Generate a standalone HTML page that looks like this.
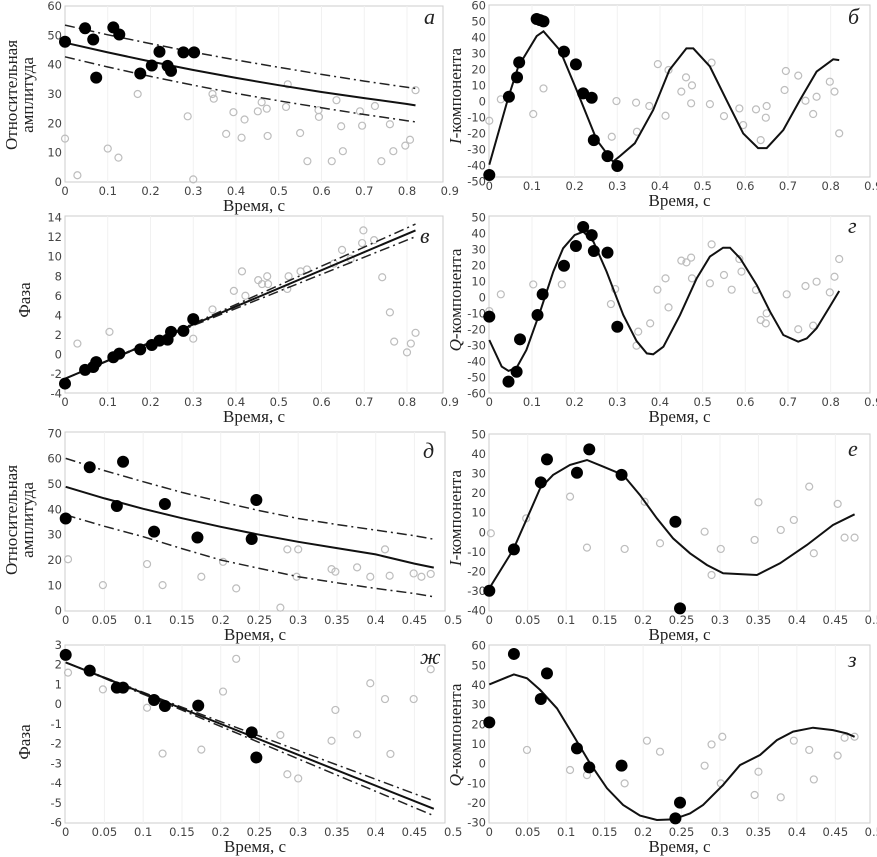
<!DOCTYPE html>
<html><head><meta charset="utf-8">
<style>
html,body{margin:0;padding:0;background:#fff;}
svg{display:block;}
.tk{font-family:"DejaVu Sans","Liberation Sans",sans-serif;font-size:11.5px;fill:#444;}
.ttl{font-family:"Liberation Serif","DejaVu Serif",serif;font-size:17px;fill:#222;}
.let{font-family:"Liberation Serif",serif;font-style:italic;font-size:22px;fill:#222;}
</style></head>
<body>
<svg id="chart" width="877" height="857" viewBox="0 0 877 857" xmlns="http://www.w3.org/2000/svg"></svg>
<script>
// ---- Panel а (amplitude) ----
const aFilledT=[0,0.047,0.066,0.073,0.113,0.127,0.176,0.203,0.221,0.24,0.248,0.277,0.302];
const aFilledV=[47.8,52.4,48.6,35.6,52.7,50.3,37,39.7,44.4,39.6,37.9,44.2,44.2];
const aHollowT=[0,0.029,0.1,0.125,0.17,0.287,0.3,0.345,0.348,0.377,0.394,0.413,0.42,0.451,0.46,0.472,0.474,0.517,0.521,0.55,0.567,0.593,0.594,0.624,0.635,0.646,0.65,0.69,0.695,0.725,0.74,0.76,0.768,0.796,0.807,0.82];
const aHollowV=[14.8,2.3,11.4,8.3,30,22.4,0.9,30,28.4,16.4,23.8,15.1,21.3,24.1,27.2,25,15.7,25.6,33.3,16.7,7.1,24.5,22.2,7.1,27.9,19,10.5,24.1,19.2,25.9,7.1,19.7,10.5,12.4,14.4,31.3];
const aFitT=[0,0.1,0.2,0.3,0.4,0.5,0.6,0.7,0.8,0.82];
const aFitV=[47.5,44.2,41.1,38.2,35.5,33.0,30.7,28.6,26.6,26.1];
const aUpV=[53.5,50.2,47.2,44.3,41.6,39.1,36.7,34.4,32.3,31.9];
const aLoV=[42.7,39.2,36.0,33.0,30.2,27.7,25.3,23.0,20.9,20.5];
// ---- Panel б (I-component) ----
const bFilledT=[0,0.046,0.065,0.07,0.111,0.119,0.127,0.175,0.203,0.22,0.24,0.245,0.277,0.3];
const bFilledV=[-45.8,3.1,15.2,24.6,51.7,51,50.2,31.3,23.3,5.2,2.5,-24,-34,-40.2];
const bHollowT=[0,0.027,0.103,0.127,0.287,0.298,0.344,0.346,0.375,0.395,0.413,0.42,0.45,0.461,0.473,0.475,0.517,0.521,0.55,0.586,0.595,0.625,0.636,0.648,0.65,0.692,0.695,0.724,0.741,0.759,0.767,0.798,0.809,0.82];
const bHollowV=[-11.9,1.5,-7.7,8.3,-21.9,0.4,-0.6,-18.8,-2.7,23.5,-8.8,19.8,6.3,15.2,-1,10.2,-1.5,24.4,-9,-4.2,-14.6,-4.8,-24,-10,-2.7,7.3,19.2,16.3,0.6,-7.7,3.1,12.5,6.3,-19.8];
const bFitT=[0,0.045,0.068,0.111,0.127,0.166,0.205,0.252,0.29,0.306,0.341,0.384,0.422,0.462,0.478,0.517,0.556,0.595,0.63,0.65,0.689,0.728,0.767,0.806,0.82];
const bFitV=[-39.4,3,22,41,44,32,7,-24,-37.5,-34,-26,-5.2,19.8,33.3,33.3,22,1,-19.8,-29,-29,-17.7,1,18.8,26.5,26];
// ---- Panel в (phase) ----
const cFilledT=[0,0.047,0.066,0.073,0.113,0.127,0.176,0.203,0.221,0.24,0.248,0.277,0.3];
const cFilledV=[-3,-1.6,-1.3,-0.8,-0.3,0.07,0.5,0.95,1.4,1.5,2.3,2.4,3.6];
const cHollowT=[0.029,0.104,0.3,0.345,0.395,0.414,0.422,0.452,0.461,0.473,0.475,0.523,0.52,0.551,0.566,0.629,0.648,0.668,0.695,0.698,0.723,0.742,0.76,0.77,0.8,0.809,0.82];
const cHollowV=[1.1,2.3,1.6,4.6,6.5,8.5,6,7.6,7.2,8,7.2,8,6.7,8.5,8.7,9.3,10.7,9.8,11.4,12.7,11.7,7.9,4.3,1.3,0.2,1.1,2.2];
const cFitT=[0,0.3,0.82];
const cFitV=[-2.5,3.05,12.7];
const cUpV=[-2.5,3.15,13.35];
const cLoV=[-2.5,2.95,12.05];
// ---- Panel г (Q-component) ----
const dFilledT=[0,0.045,0.064,0.072,0.113,0.125,0.175,0.203,0.22,0.24,0.245,0.277,0.3];
const dFilledV=[-12,-52.7,-46.5,-26.2,-11,2,19.9,32.3,44.2,39.1,29.1,28.1,-18.3];
const dHollowT=[0,0.027,0.103,0.17,0.285,0.295,0.345,0.349,0.377,0.394,0.413,0.42,0.45,0.462,0.473,0.475,0.517,0.521,0.55,0.568,0.586,0.591,0.625,0.636,0.648,0.65,0.697,0.724,0.741,0.759,0.767,0.798,0.809,0.82];
const dHollowV=[-8.5,2,8.2,8.2,-4.1,5.3,-30.2,-21.4,-16.2,4.9,12,-6.2,23.1,22,25,12,8.9,33.3,14.1,4.9,24.1,16.2,4.7,-14.1,-16.2,-9.9,2,-19.9,7.2,-17.6,9.9,3.2,13,24.1];
const dFitT=[0,0.029,0.045,0.064,0.087,0.119,0.15,0.173,0.2,0.22,0.244,0.275,0.314,0.345,0.369,0.384,0.408,0.447,0.486,0.517,0.548,0.564,0.588,0.627,0.658,0.689,0.724,0.744,0.767,0.798,0.82];
const dFitV=[-26.6,-43.3,-46,-44,-32.9,-8.9,16.2,30.8,39.1,41.2,35,16.2,-11,-27.2,-35,-35.6,-30.8,-11,12,25.6,31.2,31.2,24.5,7.8,-8.9,-23.5,-27.7,-25.6,-19.3,-5.7,4.1];
// ---- Panel д (amplitude) ----
const eFilledT=[0,0.031,0.074,0.066,0.114,0.128,0.17,0.24,0.246];
const eFilledV=[36.4,56.6,58.8,41.3,31.2,42.1,28.9,28.3,43.7];
const eHollowT=[0.003,0.048,0.105,0.125,0.175,0.203,0.22,0.277,0.286,0.3,0.298,0.343,0.348,0.376,0.393,0.412,0.418,0.449,0.459,0.471];
const eHollowV=[20.3,10.1,18.4,10.1,13.4,19.3,8.8,1.2,24.2,24.2,13.4,16.4,15.4,17.1,13.4,24.2,13.8,14.7,13.4,14.5];
const eFitT=[0,0.05,0.1,0.15,0.2,0.25,0.3,0.35,0.4,0.45,0.475];
const eFitV=[48.9,44.3,40.2,36.5,33.1,30.0,27.2,24.7,22.2,18.6,17.0];
const eUpV=[60.1,55.3,50.9,46.7,43,39.5,36.4,34,31.8,29.6,28.2];
const eLoV=[37.8,33.3,29.2,24.5,20,16.7,13.4,11,8.8,6.8,5.5];
// ---- Panel е (I-component) ----
const fFilledT=[0,0.032,0.067,0.075,0.114,0.13,0.172,0.242,0.248];
const fFilledV=[-29.8,-8.7,25.5,37.2,30.4,42.3,29.3,5.4,-38.8];
const fHollowT=[0.002,0.048,0.105,0.127,0.176,0.202,0.222,0.28,0.289,0.301,0.345,0.35,0.379,0.396,0.416,0.422,0.453,0.462,0.475];
const fHollowV=[-0.5,7.1,18.2,-7.8,-8.5,15.6,-5.6,0.3,-21.8,-8.5,-3.9,15.3,1.2,6.3,23.3,-10.7,14.5,-2.7,-2.7];
const fFitT=[0,0.031,0.049,0.066,0.083,0.105,0.127,0.148,0.174,0.196,0.218,0.239,0.261,0.283,0.304,0.348,0.378,0.413,0.447,0.475];
const fFitV=[-28.6,-9,7.1,22.4,29.3,34.4,36.9,33.5,29.3,19,7.1,-3.1,-10.7,-16.7,-20.9,-21.8,-15.8,-6.5,3.7,9.2];
// ---- Panel ж (phase) ----
const gFilledT=[0,0.031,0.066,0.074,0.114,0.128,0.171,0.24,0.246];
const gFilledV=[2.5,1.7,0.84,0.84,0.21,-0.09,-0.07,-1.43,-2.7];
const gHollowT=[0.003,0.048,0.105,0.125,0.175,0.203,0.22,0.277,0.286,0.3,0.343,0.348,0.376,0.393,0.412,0.419,0.449,0.471];
const gHollowV=[1.6,0.75,-0.18,-2.5,-2.3,0.64,2.3,-1.56,-3.55,-3.76,-1.85,-0.29,-1.53,1.06,0.26,-2.52,0.26,1.77];
const gFitT=[0,0.15,0.475];
const gFitV=[2.12,-0.22,-5.3];
const gUpV=[2.12,-0.15,-4.9];
const gLoV=[2.12,-0.3,-5.65];
// ---- Panel з (Q-component) ----
const hFilledT=[0,0.032,0.067,0.075,0.114,0.13,0.172,0.242,0.248];
const hFilledV=[21,55.8,32.9,45.9,7.8,-1.9,-1,-27.8,-19.8];
const hHollowT=[0.049,0.105,0.127,0.176,0.205,0.222,0.28,0.289,0.301,0.303,0.345,0.35,0.379,0.396,0.416,0.422,0.453,0.462,0.475];
const hHollowV=[7,-3.2,-5.8,-10,11.7,6.1,-1,9.8,-10,13.7,-15.9,-4.1,-17.1,11.7,7,-8,4.1,13.2,13.7];
const hFitT=[0,0.032,0.049,0.066,0.088,0.109,0.131,0.153,0.174,0.196,0.218,0.239,0.261,0.278,0.304,0.326,0.352,0.374,0.395,0.421,0.447,0.465,0.475];
const hFitV=[40.3,45.4,43.4,37.5,28.1,14.6,0.2,-12.5,-21,-26.4,-28.6,-28.3,-25.3,-21,-10.8,-0.7,4.4,12,16.3,18.3,17.1,15.4,13.7];

// tick labels
const xTicksLong=["0","0.1","0.2","0.3","0.4","0.5","0.6","0.7","0.8","0.9"];
const xTicksShort=["0","0.05","0.1","0.15","0.2","0.25","0.3","0.35","0.4","0.45","0.5"];
const yTicksA=["0","10","20","30","40","50","60"];
const yTicksB=["-50","-40","-30","-20","-10","0","10","20","30","40","50","60"];
const yTicksC=["-4","-2","0","2","4","6","8","10","12","14"];
const yTicksD=["-60","-50","-40","-30","-20","-10","0","10","20","30","40","50"];
const yTicksE=["0","10","20","30","40","50","60","70"];
const yTicksF=["-40","-30","-20","-10","0","10","20","30","40","50"];
const yTicksG=["-6","-5","-4","-3","-2","-1","0","1","2","3"];
const yTicksH=["-30","-20","-10","0","10","20","30","40","50","60"];

const NS="http://www.w3.org/2000/svg";
const svg=document.getElementById('chart');
function mk(tag,attrs,parent,txt){const e=document.createElementNS(NS,tag);for(const k in attrs)e.setAttribute(k,attrs[k]);if(txt!==undefined)e.textContent=txt;(parent||svg).appendChild(e);return e;}

function panel(c){
  const g=mk('g',{});
  
  
  const sx=t=>c.ox+t*c.kx, sy=v=>c.oy-v*c.ky;
  const fr=mk('rect',{x:c.x0,y:c.y0,width:c.x1-c.x0,height:c.y1-c.y0,fill:'none',stroke:'#ccc','stroke-width':1},g);
  
  
  c.xt.forEach(s=>{const v=parseFloat(s),x=sx(v);
    if(x>c.x0+1&&x<c.x1-1){mk('line',{x1:x,x2:x,y1:c.y0,y2:c.y1,stroke:'#f1f1f1','stroke-width':1},g);}
    const t=mk('text',{x:x,y:c.y1+13,'text-anchor':'middle',class:'tk'},g,s);
    
    });
  c.yt.forEach(s=>{const v=parseFloat(s),y=sy(v);
    const t=mk('text',{x:c.x0-3,y:y+4,'text-anchor':'end',class:'tk'},g,s);
    
    });
  const xl=mk('text',{x:(c.x0+c.x1)/2,y:c.y1+29,'text-anchor':'middle',class:'ttl'},g,'Время, с');
  
  
  const yl=mk('text',{transform:`translate(${c.ytx},${c.yty}) rotate(-90)`,'text-anchor':'middle',class:'ttl'},g);
  
  
  c.ytitle.forEach((ln,i)=>{
    const ts=mk('tspan',{x:0,dy:i===0?(c.ytitle.length>1?-3:0):16},yl);
    if(ln.indexOf('-')===1){mk('tspan',{'font-style':'italic'},ts,ln.charAt(0));mk('tspan',{},ts,ln.slice(1));}
    else ts.textContent=ln;
  });
  const lt=mk('text',{x:c.lx,y:c.ly,class:'let'},g,c.letter);
  
  
  c.hT.forEach((t,i)=>{const p=mk('circle',{cx:sx(t),cy:sy(c.hV[i]),r:3.5,fill:'none',stroke:'#bdbdbd','stroke-width':1.2},g);
    
    });
  const path=(T,V)=>T.map((t,i)=>(i?'L':'M')+sx(t).toFixed(1)+','+sy(V[i]).toFixed(1)).join('');
  if(c.uV){const u=mk('path',{d:path(c.fT,c.uV),fill:'none',stroke:'#222','stroke-width':1.5,'stroke-dasharray':'10,4,2,4'},g);
    
    
    const l=mk('path',{d:path(c.fT,c.lV),fill:'none',stroke:'#222','stroke-width':1.5,'stroke-dasharray':'10,4,2,4'},g);
    
    }
  const f=mk('path',{d:path(c.fT,c.fV),fill:'none',stroke:'#111','stroke-width':2},g);
  
  
  c.pT.forEach((t,i)=>{const p=mk('circle',{cx:sx(t),cy:sy(c.pV[i]),r:6,fill:'#000'},g);
    
    });
}
const AMP=['Относительная','амплитуда'];
panel({name:'panel-a-amplitude',x0:65,x1:443,y0:6,y1:182,ox:65,kx:427.5,oy:182,ky:2.933,xt:xTicksLong,yt:yTicksA,ytitle:AMP,ytx:20,yty:95,letter:'a',lx:424,ly:24,pT:aFilledT,pV:aFilledV,hT:aHollowT,hV:aHollowV,fT:aFitT,fV:aFitV,uV:aUpV,lV:aLoV});
panel({name:'panel-b-i-component',x0:489,x1:870,y0:5,y1:177,ox:489.3,kx:426.7,oy:101.7,ky:1.6,xt:xTicksLong,yt:yTicksB,ytitle:['I-компонента'],ytx:461,yty:96,letter:'б',lx:848,ly:24,pT:bFilledT,pV:bFilledV,hT:bHollowT,hV:bHollowV,fT:bFitT,fV:bFitV});
panel({name:'panel-v-phase',x0:65,x1:443,y0:216,y1:393,ox:65,kx:427.5,oy:354.3,ky:9.756,xt:xTicksLong,yt:yTicksC,ytitle:['Фаза'],ytx:30,yty:300,letter:'в',lx:420,ly:243,pT:cFilledT,pV:cFilledV,hT:cHollowT,hV:cHollowV,fT:cFitT,fV:cFitV,uV:cUpV,lV:cLoV});
panel({name:'panel-g-q-component',x0:489,x1:870,y0:216,y1:393,ox:489.3,kx:426.7,oy:297.5,ky:1.596,xt:xTicksLong,yt:yTicksD,ytitle:['Q-компонента'],ytx:461,yty:300,letter:'г',lx:848,ly:233,pT:dFilledT,pV:dFilledV,hT:dHollowT,hV:dHollowV,fT:dFitT,fV:dFitV});
panel({name:'panel-d-amplitude',x0:65,x1:445,y0:432,y1:611,ox:65.7,kx:775,oy:610.7,ky:2.534,xt:xTicksShort,yt:yTicksE,ytitle:AMP,ytx:20,yty:520,letter:'д',lx:423,ly:458,pT:eFilledT,pV:eFilledV,hT:eHollowT,hV:eHollowV,fT:eFitT,fV:eFitV,uV:eUpV,lV:eLoV});
panel({name:'panel-e-i-component',x0:489,x1:870,y0:434,y1:611,ox:489.3,kx:769,oy:532.3,ky:1.96,xt:xTicksShort,yt:yTicksF,ytitle:['I-компонента'],ytx:461,yty:518,letter:'е',lx:848,ly:456,pT:fFilledT,pV:fFilledV,hT:fHollowT,hV:fHollowV,fT:fFitT,fV:fFitV});
panel({name:'panel-zh-phase',x0:65,x1:445,y0:645,y1:823,ox:65.7,kx:775,oy:704.2,ky:19.74,xt:xTicksShort,yt:yTicksG,ytitle:['Фаза'],ytx:30,yty:742,letter:'ж',lx:420,ly:664,pT:gFilledT,pV:gFilledV,hT:gHollowT,hV:gHollowV,fT:gFitT,fV:gFitV,uV:gUpV,lV:gLoV});
panel({name:'panel-z-q-component',x0:489,x1:870,y0:645,y1:823,ox:489.3,kx:769,oy:763.7,ky:1.967,xt:xTicksShort,yt:yTicksH,ytitle:['Q-компонента'],ytx:461,yty:735,letter:'з',lx:848,ly:667,pT:hFilledT,pV:hFilledV,hT:hHollowT,hV:hHollowV,fT:hFitT,fV:hFitV});
</script>
</body></html>
